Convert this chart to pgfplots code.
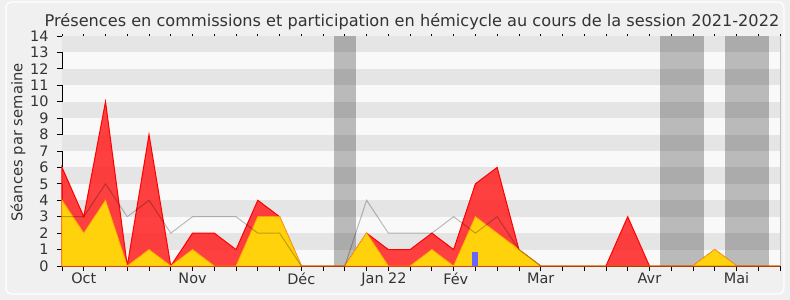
\documentclass[border=0pt]{standalone}
\usepackage{fontspec}
\setmainfont{DejaVu Sans}
\usepackage{pgfplots}
\pgfplotsset{compat=1.18}
\definecolor{bgc}{HTML}{F0F0F0}
\definecolor{bandd}{HTML}{E5E5E5}
\definecolor{bandl}{HTML}{F9F9F9}
\definecolor{txt}{HTML}{333333}
\definecolor{redf}{HTML}{FF2020}
\definecolor{yelf}{HTML}{FFD20C}
\definecolor{yell}{HTML}{FFB000}
\definecolor{bluef}{HTML}{6666FF}
\begin{document}
\begin{tikzpicture}
\fill[bgc] (-62bp,-34bp) rectangle (728bp,266bp);
\draw[white, line width=1.2bp, rounded corners=6bp] (-56bp,-28bp) rectangle (722bp,264bp);
\begin{axis}[
  scale only axis, width=718bp, height=230bp,
  xmin=0, xmax=33, ymin=0, ymax=14,
  axis lines*=left,
  axis line style={black, line width=0.8bp},
  axis background/.style={fill=bandl},
  xtick={0,...,33}, xticklabels={},
  extra x ticks={1,6,11,14.8,18.1,22,27,31},
  extra x tick labels={Oct,Nov,Déc,Jan 22,Fév,Mar,Avr,Mai},
  extra x tick style={major tick length=0pt},
  ytick={0,...,14},
  tick align=outside, major tick length=5bp,
  tick style={black, line width=0.8bp},
  /pgf/number format/assume math mode=true,
  tick label style={font=\fontsize{14.5}{16}\selectfont, text=txt},
  xticklabel style={yshift=-3bp},
  yticklabel style={xshift=-5bp},
  ylabel={Séances par semaine},
  ylabel style={font=\fontsize{14.8}{16}\selectfont, text=txt, at={(axis description cs:-0.0613,0.537)}, anchor=center, rotate=0},
  clip=false,
]
% background bands
\pgfplotsinvokeforeach{1,3,5,7,9,11,13}{
  \fill[bandd] (axis cs:0,#1) rectangle (axis cs:33,#1+1);
}
% vacation periods
\addplot[fill=black, fill opacity=0.25, draw=none] coordinates {(12.5,0)(12.5,14)(13.5,14)(13.5,0)};
\addplot[fill=black, fill opacity=0.25, draw=none] coordinates {(27.5,0)(27.5,14)(29.5,14)(29.5,0)};
\addplot[fill=black, fill opacity=0.25, draw=none] coordinates {(30.45,0)(30.45,14)(32.5,14)(32.5,0)};
% total (red)
\addplot[draw=red, line width=1bp, fill=redf, fill opacity=0.85] coordinates {
(0,6)(1,3)(2,10)(3,0)(4,8)(5,0)(6,2)(7,2)(8,1)(9,4)(10,3)(11,0)(12,0)(13,0)(14,2)(15,1)(16,1)(17,2)
(18,1)(19,5)(20,6)(21,1)(22,0)(23,0)(24,0)(25,0)(26,3)(27,0)(28,0)(29,0)(30,1)(31,0)(32,0)(33,0)} \closedcycle;
% hemicycle (yellow)
\addplot[draw=yell, line width=0.8bp, fill=yelf] coordinates {
(0,4)(1,2)(2,4)(3,0)(4,1)(5,0)(6,1)(7,0)(8,0)(9,3)(10,3)(11,0)(12,0)(13,0)(14,2)(15,0)(16,0)(17,1)
(18,0)(19,3)(20,2)(21,1)(22,0)(23,0)(24,0)(25,0)(26,0)(27,0)(28,0)(29,0)(30,1)(31,0)(32,0)(33,0)} \closedcycle;
% median line (grey)
\addplot[black, opacity=0.25, line width=1bp] coordinates {
(0,3)(1,3)(2,5)(3,3)(4,4)(5,2)(6,3)(7,3)(8,3)(9,2)(10,2)(11,0)(12,0)(13,0)(14,4)(15,2)(16,2)(17,2)
(18,3)(19,2)(20,3)(21,1)(22,0)(23,0)(24,0)(25,0)(26,0)(27,0)(28,0)(29,0)(30,0)(31,0)(32,0)(33,0)};
% blue bar
\addplot[ybar, bar width=6bp, fill=bluef, draw=none] coordinates {(19,0.87)};
% right edge and top ticks
\draw[black!25, line width=0.8bp] (axis cs:33,0) -- (axis cs:33,14);
\pgfplotsinvokeforeach{0,...,33}{\draw[black, line width=0.8bp] (axis cs:#1,14) -- ++(0,1.5bp);}
\end{axis}
\node[anchor=base, font=\fontsize{16.2}{20}\selectfont, text=txt] at (350bp,239bp) {Présences en commissions et participation en hémicycle au cours de la session 2021-2022};
\pgfresetboundingbox
\path (-62bp,-34bp) rectangle (728bp,266bp);
\end{tikzpicture}
\end{document}
